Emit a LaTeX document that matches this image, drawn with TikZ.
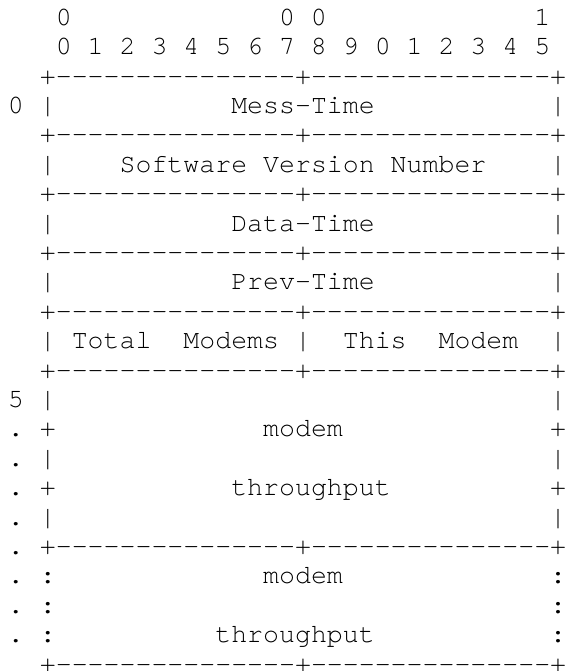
\documentclass[tikz,border=0pt]{standalone}
\usepackage{fontspec}
\setmonofont{TeX Gyre Cursor}
\ExplSyntaxOn
\cs_new:Npn \myrep #1#2 { \prg_replicate:nn {#1} {#2} }
\ExplSyntaxOff
\newcommand\dsh{-\kern0pt}
\newcommand\sepline{\myrep{15}{\dsh}+\kern0pt\myrep{15}{\dsh}+}
\tikzset{
  ln/.style={anchor=base west, inner sep=0pt, outer sep=0pt, text depth=0pt,
    font=\ttfamily\fontsize{13.29pt}{15pt}\selectfont, text=black}
}
\begin{document}
\begin{tikzpicture}[x=0.5pt,y=-0.5pt]
\useasboundingbox (0,0) rectangle (564,671);
\def\bx{8}
\def\by{25.3}
\def\dy{29.4}
\node[ln] (l0)  at (\bx,{\by+\dy*0})  {~~~0\myrep{13}{~}0~0\myrep{13}{~}1};
\node[ln] (l1)  at (\bx,{\by+\dy*1})  {~~~0~1~2~3~4~5~6~7~8~9~0~1~2~3~4~5};
\node[ln] (l2)  at (\bx,{\by+\dy*2})  {~~+\sepline};
\node[ln] (l3)  at (\bx,{\by+\dy*3})  {0~|\myrep{11}{~}Mess\dsh Time\myrep{11}{~}|};
\node[ln] (l4)  at (\bx,{\by+\dy*4})  {~~+\sepline};
\node[ln] (l5)  at (\bx,{\by+\dy*5})  {~~|\myrep{4}{~}Software~Version~Number\myrep{4}{~}|};
\node[ln] (l6)  at (\bx,{\by+\dy*6})  {~~+\sepline};
\node[ln] (l7)  at (\bx,{\by+\dy*7})  {~~|\myrep{11}{~}Data\dsh Time\myrep{11}{~}|};
\node[ln] (l8)  at (\bx,{\by+\dy*8})  {~~+\sepline};
\node[ln] (l9)  at (\bx,{\by+\dy*9})  {~~|\myrep{11}{~}Prev\dsh Time\myrep{11}{~}|};
\node[ln] (l10) at (\bx,{\by+\dy*10}) {~~+\sepline};
\node[ln] (l11) at (\bx,{\by+\dy*11}) {~~|~Total~~Modems~|~~This~~Modem~~|};
\node[ln] (l12) at (\bx,{\by+\dy*12}) {~~+\sepline};
\node[ln] (l13) at (\bx,{\by+\dy*13}) {5~|\myrep{31}{~}|};
\node[ln] (l14) at (\bx,{\by+\dy*14}) {.~+\myrep{13}{~}modem\myrep{13}{~}+};
\node[ln] (l15) at (\bx,{\by+\dy*15}) {.~|\myrep{31}{~}|};
\node[ln] (l16) at (\bx,{\by+\dy*16}) {.~+\myrep{11}{~}throughput\myrep{10}{~}+};
\node[ln] (l17) at (\bx,{\by+\dy*17}) {.~|\myrep{31}{~}|};
\node[ln] (l18) at (\bx,{\by+\dy*18}) {.~+\sepline};
\node[ln] (l19) at (\bx,{\by+\dy*19}) {.~:\myrep{13}{~}modem\myrep{13}{~}:};
\node[ln] (l20) at (\bx,{\by+\dy*20}) {.~:\myrep{31}{~}:};
\node[ln] (l21) at (\bx,{\by+\dy*21}) {.~:\myrep{10}{~}throughput\myrep{11}{~}:};
\node[ln] (l22) at (\bx,{\by+\dy*22}) {~~+\sepline};
\end{tikzpicture}
\end{document}
